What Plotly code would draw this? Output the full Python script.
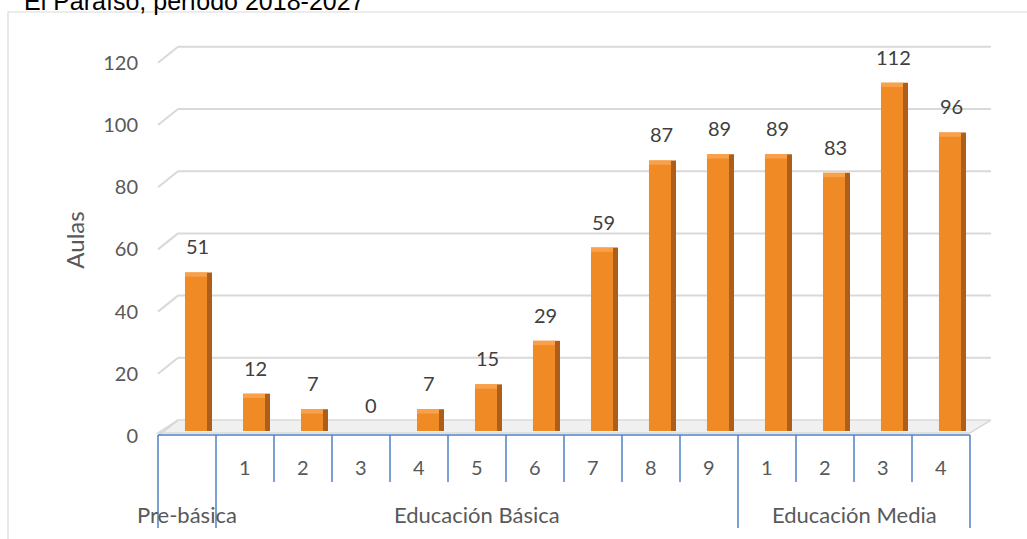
import plotly.graph_objects as go

# ---------------- data ----------------
sub_labels = ["", "1", "2", "3", "4", "5", "6", "7", "8", "9", "1", "2", "3", "4"]
group_labels = ["Pre-básica"] + ["Educación Básica"] * 9 + ["Educación Media"] * 4
aulas = [51, 12, 7, 0, 7, 15, 29, 59, 87, 89, 89, 83, 112, 96]
y_ticks = [0, 20, 40, 60, 80, 100, 120]
title_text = "El Paraíso, período 2018-2027"
y_title = "Aulas"

# ---------------- layout geometry ----------------
W, H = 1027, 539
L, R, T, B = 150, 36, 40, 99
plot_w = W - L - R
plot_h = H - T - B
CELL = 58.0                 # px per category
X0 = -0.793                 # x-range start (bar units)
x_range = [X0, X0 + plot_w / CELL]
PX_PER = 3.11               # px per unit on y
Y_ZERO_PX = 431
y_range = [-(H - B - Y_ZERO_PX) / PX_PER, (Y_ZERO_PX - T) / PX_PER]


def px_x(px):
    return X0 + (px - L) / CELL


def py_paper(py):
    return (H - B - py) / plot_h


def px_paper(px):
    return (px - L) / plot_w


FONT = "Lato, 'Noto Sans', sans-serif"
GRID = "#D9D9D9"
AXIS_BLUE = "#4F81C4"
FRONT = "#EF8A25"
SIDE = "#AE5E1B"
CAP = "#F8A04A"

idx = list(range(len(aulas)))
CAP_H = 1.4
fig = go.Figure()
fig.add_trace(go.Bar(x=idx, y=aulas, width=0.38, offset=-0.19,
                     marker=dict(color=FRONT, line=dict(width=0)),
                     hoverinfo="skip"))
fig.add_trace(go.Bar(x=idx, y=aulas, width=0.086, offset=0.19,
                     marker=dict(color=SIDE, line=dict(width=0)),
                     hoverinfo="skip"))
# light bevel at the top of each bar
fig.add_trace(go.Bar(x=idx, y=[CAP_H if v > 0 else None for v in aulas],
                     base=[v - CAP_H if v > 0 else None for v in aulas],
                     width=0.38, offset=-0.19,
                     marker=dict(color=CAP, line=dict(width=0)), hoverinfo="skip"))

shapes = []
# frame
shapes.append(dict(type="rect", xref="paper", yref="paper",
                   x0=px_paper(8), x1=px_paper(1040), y0=py_paper(560), y1=py_paper(12),
                   line=dict(color=GRID, width=1.2), fillcolor="rgba(0,0,0,0)", layer="below"))

BACK = 11    # px depth shift up for back wall
DEPTH = 16   # px vertical size of the diagonal
xb0 = px_x(178)
xf0 = px_x(158)
xf1 = px_x(970)
xb1 = x_range[1]

# floor
fy_back = BACK / PX_PER
fy_front = (BACK - 13) / PX_PER
shapes.append(dict(type="path", xref="x", yref="y", layer="below",
                   path=f"M{xf0},{fy_front} L{xb0},{fy_back} L{xb1},{fy_back} L{xf1},{fy_front} Z",
                   fillcolor="#F0F0F0", line=dict(color=GRID, width=1.5)))

# gridlines on back wall + diagonals on side wall
for v in y_ticks:
    yb = v + BACK / PX_PER
    yf = v + (BACK - DEPTH) / PX_PER
    if v > 0:
        shapes.append(dict(type="line", xref="x", yref="y", layer="below",
                           x0=xb0, x1=xb1, y0=yb, y1=yb, line=dict(color=GRID, width=2)))
    shapes.append(dict(type="line", xref="x", yref="y", layer="below",
                       x0=xf0, x1=xb0, y0=yf, y1=yb, line=dict(color=GRID, width=2)))

# category axis
n = len(aulas)
FRONT_OFF = xf0
axis_y = py_paper(435)
shapes.append(dict(type="line", xref="x", yref="paper", x0=FRONT_OFF, x1=FRONT_OFF + n,
                   y0=axis_y, y1=axis_y, line=dict(color=AXIS_BLUE, width=1.5)))
for k in range(n + 1):
    long_line = k == 0 or k == n or group_labels[k] != group_labels[k - 1]
    y_end = py_paper(528) if long_line else py_paper(482)
    shapes.append(dict(type="line", xref="x", yref="paper", x0=FRONT_OFF + k, x1=FRONT_OFF + k,
                       y0=axis_y, y1=y_end, line=dict(color=AXIS_BLUE, width=1.5)))

annotations = []
for k, lab in enumerate(sub_labels):
    if lab:
        annotations.append(dict(x=FRONT_OFF + k + 0.5, y=py_paper(467), xref="x", yref="paper",
                                text=lab, showarrow=False, xanchor="center", yanchor="middle",
                                font=dict(family=FONT, size=20, color="#595959")))
# group labels
start = 0
for k in range(1, n + 1):
    if k == n or group_labels[k] != group_labels[start]:
        annotations.append(dict(x=FRONT_OFF + (start + k) / 2, y=py_paper(514), xref="x", yref="paper",
                                text=group_labels[start], showarrow=False, xanchor="center",
                                yanchor="middle", font=dict(family=FONT, size=22, color="#595959")))
        start = k

# data labels
for i, v in zip(idx, aulas):
    annotations.append(dict(x=i + 0.02, y=v, xref="x", yref="y", text=str(v), showarrow=False,
                            xanchor="center", yanchor="bottom", yshift=12,
                            font=dict(family=FONT, size=20, color="#404040")))

# (cropped) title
annotations.append(dict(x=px_paper(22), y=py_paper(1), xref="paper", yref="paper",
                        text=title_text, showarrow=False, xanchor="left", yanchor="middle",
                        font=dict(family="Liberation Sans, Arial, sans-serif", size=25, color="#000000")))

fig.update_layout(
    width=W, height=H,
    margin=dict(l=L, r=R, t=T, b=B, autoexpand=False),
    paper_bgcolor="white", plot_bgcolor="rgba(0,0,0,0)",
    barmode="overlay", showlegend=False, hovermode=False,
    shapes=shapes, annotations=annotations,
    xaxis=dict(range=x_range, showgrid=False, zeroline=False, showticklabels=False,
               showline=False, ticks=""),
    yaxis=dict(range=y_range, tickvals=y_ticks, showgrid=False, zeroline=False, showline=False,
               ticks="", ticklabelshift=5, ticklabelstandoff=11,
               tickfont=dict(family=FONT, size=20, color="#595959"),
               title=dict(text=y_title, standoff=11, font=dict(family=FONT, size=24, color="#595959"))),
)

fig.write_html("out.html", config={"displayModeBar": False},
               post_script="document.body.style.margin='0';")
